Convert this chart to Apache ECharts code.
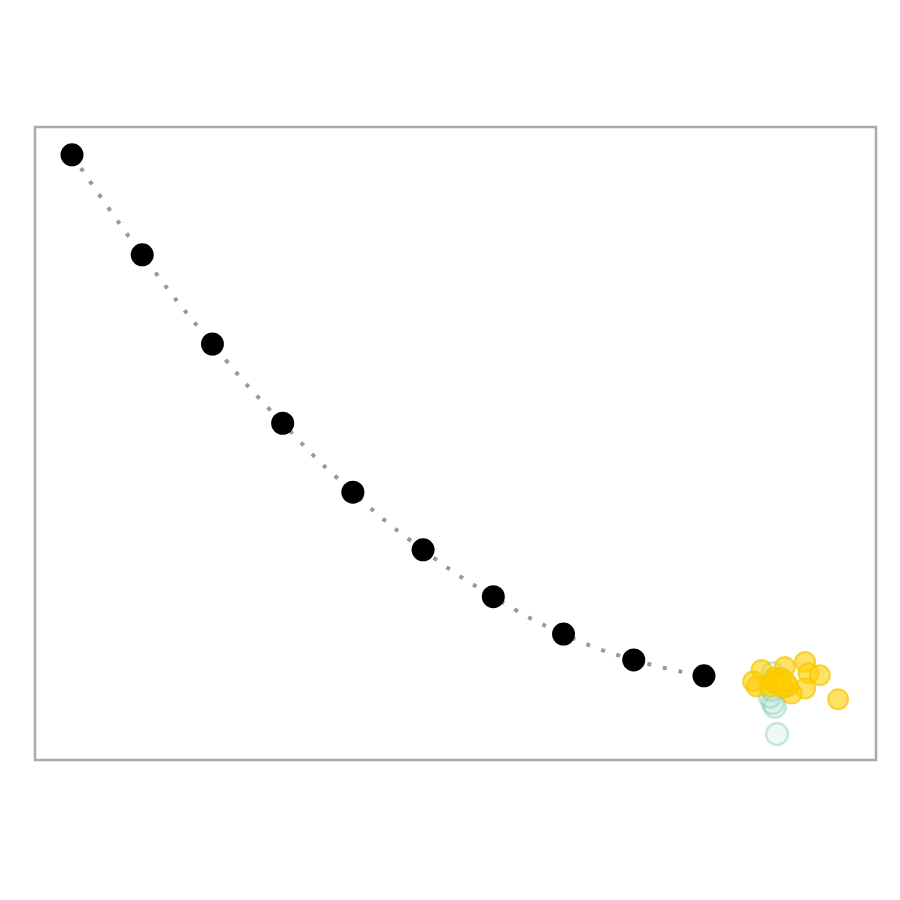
<!DOCTYPE html>
<html>
<head>
<meta charset="utf-8">
<script src="https://cdn.jsdelivr.net/npm/echarts@6/dist/echarts.min.js"></script>
<style>html,body{margin:0;padding:0;background:#fff;}#chart{width:900px;height:900px;}</style>
</head>
<body>
<div id="chart"></div>
<script>
// Main curve (index, value)
const curveX = [0, 1, 2, 3, 4, 5, 6, 7, 8, 9];
const curveY = [95.6, 79.8, 65.7, 53.2, 42.3, 33.2, 25.8, 19.9, 15.8, 13.3];

// Cluster at index ~10: yellow points
const yellowX = [9.82, 9.70, 9.75, 10.15, 10.44, 10.49, 10.65, 10.44, 10.25, 10.91, 10.08, 9.94, 10.20, 10.05, 10.13, 10.01, 10.06, 10.10, 9.99, 10.16];
const yellowY = [14.2, 12.4, 11.6, 14.7, 15.5, 13.7, 13.4, 11.3, 10.5, 9.6, 12.1, 11.6, 11.7, 12.6, 11.4, 13.0, 11.9, 12.9, 12.3, 12.4];

// Cluster at index ~10: teal points
const tealX = [9.98, 10.01, 9.98, 10.04, 9.94, 9.97, 10.00];
const tealY = [13.7, 8.4, 9.0, 4.1, 10.0, 11.1, 12.8];

const zip = (a, b) => a.map((v, i) => [v, b[i]]);

const chart = echarts.init(document.getElementById('chart'), null, {renderer: 'canvas'});
chart.setOption({
  animation: false,
  backgroundColor: '#fff',
  grid: {left: 35, right: 24, top: 127, bottom: 140, show: true, borderColor: '#aaaaaa', borderWidth: 2.5, backgroundColor: 'transparent'},
  xAxis: {type: 'value', min: -0.527, max: 11.45, show: false, splitLine: {show: false}},
  yAxis: {type: 'value', min: 0, max: 100, show: false, splitLine: {show: false}},
  series: [
    {
      type: 'line',
      data: zip(curveX, curveY),
      smooth: true,
      symbol: 'none',
      lineStyle: {color: '#999999', width: 4, type: [4, 12], cap: 'butt'},
      z: 1
    },
    {
      type: 'scatter',
      data: zip(curveX, curveY),
      symbolSize: 23,
      itemStyle: {color: '#000000', opacity: 1},
      z: 3
    },
    {
      type: 'scatter',
      data: zip(tealX, tealY),
      symbolSize: 22,
      itemStyle: {color: 'rgba(160,215,195,0.18)', borderColor: 'rgba(110,195,165,0.35)', borderWidth: 2.5, opacity: 1},
      z: 4
    },
    {
      type: 'scatter',
      data: zip(yellowX, yellowY),
      symbolSize: 20,
      itemStyle: {color: 'rgba(255,205,0,0.6)', borderColor: 'rgba(245,200,0,0.75)', borderWidth: 2, opacity: 1},
      z: 5
    }
  ]
});
</script>
</body>
</html>
